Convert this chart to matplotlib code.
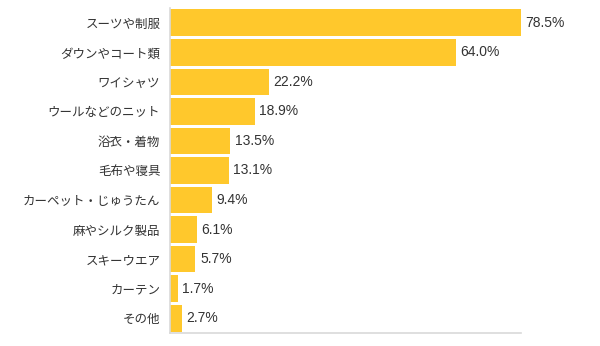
import matplotlib
matplotlib.use('Agg')
import matplotlib.pyplot as plt

plt.rcParams['font.family'] = ['Noto Sans CJK JP', 'DejaVu Sans']

categories = ['スーツや制服', 'ダウンやコート類', 'ワイシャツ', 'ウールなどのニット',
              '浴衣・着物', '毛布や寝具', 'カーペット・じゅうたん', '麻やシルク製品',
              'スキーウエア', 'カーテン', 'その他']
values = [78.5, 64.0, 22.2, 18.9, 13.5, 13.1, 9.4, 6.1, 5.7, 1.7, 2.7]

bar_color = '#FFC82C'
text_color = '#333333'

fig = plt.figure(figsize=(6, 3.46), dpi=100)
ax = fig.add_axes([170/600, 1 - 333/346, (521 - 170)/600, (333 - 8)/346])

ypos = list(range(len(categories)))
ax.barh(ypos, values, height=0.9, color=bar_color, zorder=2)
for y, v in zip(ypos, values):
    # value labels in a Helvetica-like face
    ax.text(v + 1.0, y, f'{v:.1f}%', va='center', ha='left',
            fontsize=10, color=text_color, family=['Liberation Sans'])

ax.set_xlim(0, 78.5)
ax.set_ylim(len(categories) - 0.5, -0.5)
ax.set_yticks(ypos)
ax.set_yticklabels(categories, fontsize=9, color=text_color)
ax.set_xticks([])
ax.tick_params(axis='y', length=0, pad=7)

for side in ['top', 'right']:
    ax.spines[side].set_visible(False)
for side in ['left', 'bottom']:
    ax.spines[side].set_color('#D9D9D9')
    ax.spines[side].set_linewidth(1.2)

fig.savefig('out.png', dpi=100)
